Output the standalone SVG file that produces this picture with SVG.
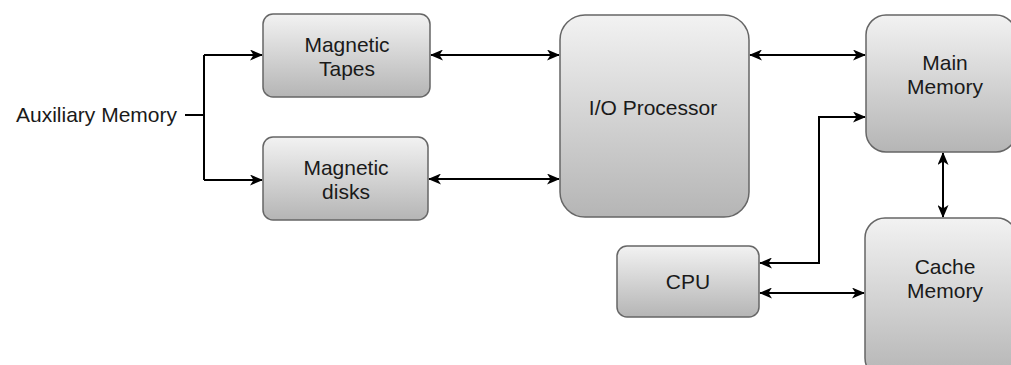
<svg xmlns="http://www.w3.org/2000/svg" width="1011" height="365" viewBox="0 0 1011 365">
<defs>
<linearGradient id="g" x1="0" y1="0" x2="0" y2="1">
<stop offset="0" stop-color="#f2f2f2"/>
<stop offset="1" stop-color="#b5b5b5"/>
</linearGradient>
<marker id="ah" viewBox="0 0 13 11" refX="12" refY="5.5" markerWidth="13" markerHeight="11" markerUnits="userSpaceOnUse" orient="auto-start-reverse">
<path d="M0,0 L13,5.5 L0,11 L3.5,5.5 z" fill="#000"/>
</marker>
</defs>
<style>
.box{fill:url(#g);stroke:#666;stroke-width:1.5}
.t{font-family:"Liberation Sans",Arial,sans-serif;font-size:21px;fill:#1a1a1a;text-anchor:middle}
.c{fill:none;stroke:#000;stroke-width:2}
</style>
<rect width="1011" height="365" fill="#fff"/>
<g id="connectors">
<path class="c" d="M185,115 H204"/>
<path class="c" d="M204,55 V180" />
<path class="c" d="M204,55 H262" marker-end="url(#ah)"/>
<path class="c" d="M204,180 H262" marker-end="url(#ah)"/>
<path class="c" d="M431,55 H559" marker-start="url(#ah)" marker-end="url(#ah)"/>
<path class="c" d="M429,179 H559" marker-start="url(#ah)" marker-end="url(#ah)"/>
<path class="c" d="M750,55 H865" marker-start="url(#ah)" marker-end="url(#ah)"/>
<path class="c" d="M760,263 H819 V117 H865" marker-start="url(#ah)" marker-end="url(#ah)"/>
<path class="c" d="M943,153 V217" marker-start="url(#ah)" marker-end="url(#ah)"/>
<path class="c" d="M760,293 H864" marker-start="url(#ah)" marker-end="url(#ah)"/>
</g>
<g id="aux">
<text class="t" x="177" y="122" style="text-anchor:end">Auxiliary Memory</text>
</g>
<g id="tapes">
<rect class="box" x="263" y="14" width="167" height="83" rx="10"/>
<text class="t" x="347" y="52">Magnetic</text>
<text class="t" x="347" y="76">Tapes</text>
</g>
<g id="disks">
<rect class="box" x="263" y="137" width="165" height="83" rx="10"/>
<text class="t" x="346" y="175">Magnetic</text>
<text class="t" x="346" y="199">disks</text>
</g>
<g id="io">
<rect class="box" x="560" y="15" width="189" height="202" rx="25"/>
<text class="t" x="653" y="115">I/O Processor</text>
</g>
<g id="main">
<rect class="box" x="866" y="15" width="150" height="137" rx="20"/>
<text class="t" x="945" y="70">Main</text>
<text class="t" x="945" y="94">Memory</text>
</g>
<g id="cpu">
<rect class="box" x="617" y="246" width="142" height="71" rx="10"/>
<text class="t" x="688" y="289">CPU</text>
</g>
<g id="cache">
<rect class="box" x="865" y="218" width="152" height="160" rx="20"/>
<text class="t" x="945" y="274">Cache</text>
<text class="t" x="945" y="298">Memory</text>
</g>
</svg>
